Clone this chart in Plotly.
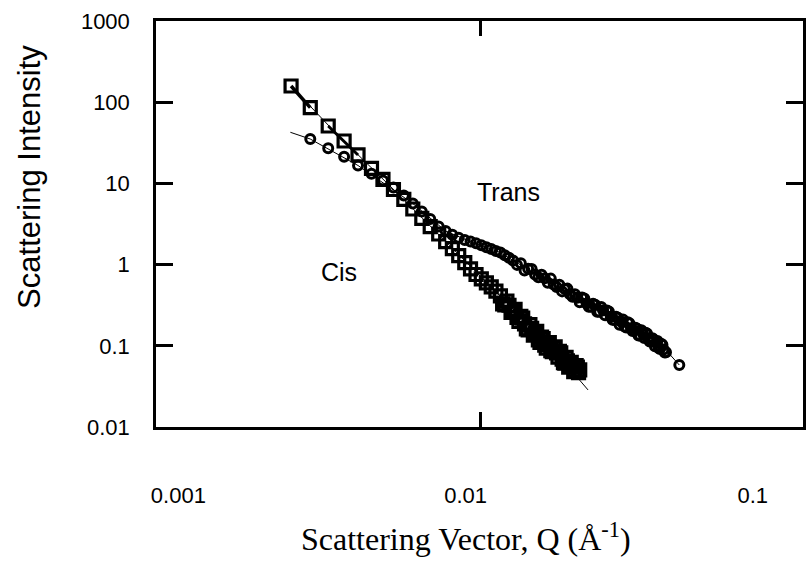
import plotly.graph_objects as go

# ---------------- data ----------------
cis_q = [0.002468, 0.002879, 0.003324, 0.003776, 0.004222, 0.004703, 0.005156, 0.005608,
         0.006095, 0.006551, 0.007040, 0.007532, 0.008061, 0.008525,
         0.008995, 0.009465, 0.009935, 0.010405, 0.010875, 0.011345, 0.011815, 0.012285,
         0.012755, 0.013225, 0.013695, 0.014165, 0.014635, 0.015105, 0.015575, 0.016045,
         0.016515, 0.016985, 0.017455, 0.017925, 0.018395, 0.018865, 0.019335, 0.019805,
         0.020275, 0.020745, 0.021215, 0.021685, 0.022155, 0.022625, 0.023095, 0.023565,
         0.024035, 0.024505, 0.024975]
cis_i = [158.3, 85.6, 50.9, 33.3, 22.4, 15.35, 11.23, 8.41, 6.34, 4.84, 3.70, 2.93, 2.38, 1.914,
         1.570, 1.291, 1.055, 0.888, 0.755, 0.668, 0.595, 0.531, 0.472, 0.411,
         0.319, 0.316, 0.258, 0.224, 0.231, 0.186, 0.157, 0.164, 0.141, 0.118,
         0.128, 0.102, 0.104, 0.0873, 0.0945, 0.0820, 0.0856, 0.0684, 0.0612, 0.0654,
         0.0556, 0.0561, 0.0501, 0.0547, 0.0504]
# interleaved points of the dense Cis tail
cis_q_b = [0.013460, 0.013930, 0.014400, 0.014870, 0.015340, 0.015810, 0.016280, 0.016750,
           0.017220, 0.017690, 0.018160, 0.018630, 0.019100, 0.019570, 0.020040, 0.020510,
           0.020980, 0.021450, 0.021920, 0.022390, 0.022860, 0.023330, 0.023800, 0.024270,
           0.024740]
cis_i_b = [0.3277, 0.3557, 0.2586, 0.2808, 0.2000, 0.2190, 0.1614, 0.1824, 0.1356, 0.1509,
           0.1098, 0.1227, 0.0933, 0.1098, 0.0846, 0.0972, 0.0727, 0.0821, 0.0620, 0.0719,
           0.0546, 0.0626, 0.0480, 0.0569, 0.0468]

trans_q = [0.002879, 0.003324, 0.003776, 0.004222, 0.004703, 0.005156, 0.005608, 0.006095,
           0.006551, 0.007040, 0.007532, 0.008061, 0.008525,
           0.008995, 0.009465, 0.009935, 0.010405, 0.010875, 0.011345, 0.011815, 0.012285,
           0.012755, 0.013225, 0.013695, 0.014165, 0.014635, 0.015105, 0.015575, 0.016045,
           0.016515, 0.016985, 0.017455, 0.017925, 0.018395, 0.018865, 0.019335, 0.019805,
           0.020275, 0.020745, 0.021215, 0.021685, 0.022155, 0.022625, 0.023095, 0.023565,
           0.024035, 0.024505, 0.024975, 0.025445,
           0.026385, 0.027325, 0.028265, 0.029205, 0.030145, 0.031085, 0.032025, 0.032965,
           0.033905, 0.034845, 0.035785, 0.036725, 0.037665, 0.038605, 0.039545, 0.040485,
           0.041425, 0.042365, 0.043305, 0.044245, 0.045185, 0.046125, 0.047065, 0.048005,
           0.048945, 0.049885, 0.0555]
trans_i = [35.2, 27.05, 21.3, 16.61, 13.17, 10.86, 8.90, 7.10, 5.65, 4.51, 3.64, 2.95, 2.59,
           2.334, 2.145, 2.015, 1.920, 1.829, 1.729, 1.638, 1.552, 1.475, 1.405,
           1.306, 1.213, 1.126, 0.992, 1.037, 0.846, 0.888, 0.885, 0.753, 0.700,
           0.749, 0.678, 0.597, 0.672, 0.570, 0.530, 0.566, 0.468, 0.501, 0.506,
           0.432, 0.403, 0.431, 0.391, 0.344, 0.393,
           0.331, 0.303, 0.321, 0.262, 0.274, 0.272, 0.228, 0.208, 0.221, 0.198,
           0.173, 0.195, 0.165, 0.153, 0.162, 0.134, 0.143, 0.145, 0.123, 0.113,
           0.120, 0.108, 0.0939, 0.106, 0.0898, 0.0832, 0.0580]
# interleaved points of the dense Trans tail
trans_q_b = [0.025915, 0.026855, 0.027795, 0.028735, 0.029675, 0.030615, 0.031555, 0.032495,
             0.033435, 0.034375, 0.035315, 0.036255, 0.037195, 0.038135, 0.039075, 0.040015,
             0.040955, 0.041895, 0.042835, 0.043775, 0.044715, 0.045655, 0.046595, 0.047535,
             0.048475, 0.049415]
trans_i_b = [0.3819, 0.3034, 0.3301, 0.2626, 0.3005, 0.2371, 0.2638, 0.2090, 0.2273, 0.1816,
             0.2102, 0.1685, 0.1898, 0.1522, 0.1666, 0.1337, 0.1554, 0.1250, 0.1413, 0.1133,
             0.1235, 0.0989, 0.1144, 0.0916, 0.1031, 0.0828]

# fitted model curves (thin lines)
cis_fit_q = [0.002468, 0.0035, 0.006, 0.012, 0.020, 0.0267]
cis_fit_i = [158.3, 43.1, 6.69, 0.570, 0.094, 0.0286]
trans_fit_q = [0.002454, 0.002879, 0.004222, 0.006551, 0.008525, 0.0104, 0.0131,
               0.0175, 0.025, 0.035, 0.050, 0.0555]
trans_fit_i = [42.6, 35.2, 16.61, 5.65, 2.59, 1.92, 1.425, 0.770, 0.375, 0.196, 0.0875, 0.058]

x_tick_vals = [0.001, 0.01, 0.1]
x_tick_text = ["0.001", "0.01", "0.1"]
x_mark_vals = [0.01127]
y_tick_vals = [0.01, 0.1, 1, 10, 100, 1000]
y_tick_text = ["0.01", "0.1", "1", "10", "100", "1000"]

SANS = "Arial, Liberation Sans, sans-serif"
SERIF = "Times New Roman, Liberation Serif, serif"
XR = [-3.078, -0.825]

fig = go.Figure()

fig.add_trace(go.Scatter(x=cis_fit_q, y=cis_fit_i, mode="lines", xaxis="x2",
                         line=dict(color="black", width=1), showlegend=False))
fig.add_trace(go.Scatter(x=trans_fit_q, y=trans_fit_i, mode="lines", xaxis="x2",
                         line=dict(color="black", width=1), showlegend=False))
fig.add_trace(go.Scatter(x=cis_q[0:2], y=cis_i[0:2], mode="lines",
                         line=dict(color="black", width=3.5), showlegend=False))
fig.add_trace(go.Scatter(x=cis_q[2:5], y=cis_i[2:5], mode="lines",
                         line=dict(color="black", width=3), showlegend=False))
fig.add_trace(go.Scatter(x=cis_q + cis_q_b, y=cis_i + cis_i_b, mode="markers", name="Cis",
                         marker=dict(symbol="square-open", size=12, color="black",
                                     line=dict(width=3.2, color="black")),
                         showlegend=False))
fig.add_trace(go.Scatter(x=trans_q + trans_q_b, y=trans_i + trans_i_b, mode="markers",
                         name="Trans",
                         marker=dict(symbol="circle-open", size=9, color="black",
                                     line=dict(width=3, color="black")),
                         showlegend=False))

fig.update_layout(
    width=810, height=565,
    margin=dict(l=156, r=4, t=21, b=138),
    paper_bgcolor="white", plot_bgcolor="white",
    font=dict(family=SANS, color="black", size=22),
    xaxis=dict(type="log", range=XR, showgrid=False, zeroline=False,
               showline=True, linecolor="black", linewidth=2.5, mirror=True,
               ticks="", tickvals=x_tick_vals, ticktext=x_tick_text,
               ticklabelstandoff=47, tickfont=dict(family=SANS, size=22, color="black")),
    xaxis2=dict(type="log", range=XR, matches="x", overlaying="x", side="bottom",
                anchor="y", showgrid=False, zeroline=False,
                showline=True, linecolor="black", linewidth=2.5, mirror="ticks",
                ticks="inside", ticklen=15, tickwidth=2.5, tickcolor="black",
                tickvals=x_mark_vals, showticklabels=False),
    yaxis=dict(type="log", range=[-2, 3], showgrid=False, zeroline=False,
               showline=True, linecolor="black", linewidth=2.5, mirror="ticks",
               ticks="inside", ticklen=17, tickwidth=2.5, tickcolor="black",
               tickvals=y_tick_vals, ticktext=y_tick_text, ticklabelstandoff=19,
               tickfont=dict(family=SANS, size=22, color="black")),
    annotations=[
        dict(text="Trans", x=-1.851, y=0.894, xref="x", yref="y", showarrow=False,
             font=dict(family=SANS, size=25, color="black"), xanchor="center", yanchor="middle"),
        dict(text="Cis", x=-2.440, y=-0.087, xref="x", yref="y", showarrow=False,
             font=dict(family=SANS, size=25, color="black"), xanchor="center", yanchor="middle"),
        dict(text="Scattering Intensity", x=-0.1954, y=0.615, xref="paper", yref="paper",
             showarrow=False, textangle=-90, xanchor="center", yanchor="middle",
             font=dict(family=SANS, size=31, color="black")),
        dict(text="Scattering Vector, Q (Å<sup>-1</sup>)", x=0.4785, y=-0.271,
             xref="paper", yref="paper", showarrow=False, xanchor="center", yanchor="middle",
             font=dict(family=SERIF, size=32, color="black")),
    ],
)

fig.write_html("out.html")
